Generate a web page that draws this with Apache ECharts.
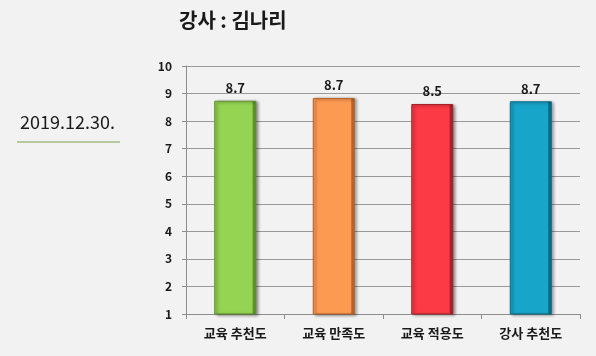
<!DOCTYPE html>
<html>
<head>
<meta charset="utf-8">
<script src="https://cdn.jsdelivr.net/npm/echarts@6/dist/echarts.min.js"></script>
<style>
html,body{margin:0;padding:0;background:#f2f2f2;}
#c{width:596px;height:356px;}
</style>
</head>
<body>
<div id="c"></div>
<script>
const categories = ['교육 추천도', '교육 만족도', '교육 적용도', '강사 추천도'];
const values = [8.74, 8.84, 8.62, 8.72];
const valueLabels = ['8.7', '8.7', '8.5', '8.7'];
const barColors = ['#94d452', '#fd9a52', '#fc3a45', '#17a6ca'];
const barDark = ['#5f8f2c', '#b8652a', '#a8202a', '#0d6a86'];
const titleText = '강사 : 김나리';
const dateText = '2019.12.30.';

const FONT = '"Noto Sans CJK KR", "Noto Sans", sans-serif';
const chart = echarts.init(document.getElementById('c'));

function grad(i){
  return new echarts.graphic.LinearGradient(0,0,1,0,[
    {offset:0, color:barColors[i]},
    {offset:0.9, color:barColors[i]},
    {offset:0.93, color:barDark[i]},
    {offset:1, color:barDark[i]}
  ]);
}

chart.setOption({
  backgroundColor:'#f2f2f2',
  animation:false,
  title:{
    text:titleText, left:174, top:5,
    textStyle:{fontFamily:FONT, fontSize:20, fontWeight:'bold', color:'#1a1a1a'}
  },
  graphic:[
    {type:'text', left:20, top:113, style:{text:dateText, font:'18px ' + FONT, fill:'#1a1a1a'}},
    {type:'line', shape:{x1:17, y1:142, x2:120, y2:142}, style:{stroke:'#77a04a', lineWidth:1}}
  ],
  grid:{left:186, right:16, top:66, bottom:42},
  xAxis:{
    type:'category', data:categories,
    axisLine:{lineStyle:{color:'#8c8c8c'}},
    axisTick:{show:true, length:5, lineStyle:{color:'#8c8c8c'}},
    axisLabel:{fontFamily:FONT, fontSize:13, fontWeight:'bold', color:'#1a1a1a', margin:13}
  },
  yAxis:{
    type:'value', min:1, max:10, interval:1,
    axisLine:{show:true, lineStyle:{color:'#8c8c8c'}},
    axisTick:{show:true, length:4, lineStyle:{color:'#8c8c8c'}},
    splitLine:{lineStyle:{color:'#9a9a9a'}},
    axisLabel:{fontFamily:FONT, fontSize:12, fontWeight:'bold', color:'#1a1a1a', margin:14}
  },
  series:[{
    type:'bar', barWidth:42,
    data: values.map((v,i)=>({
      value:v,
      itemStyle:{
        color:grad(i), borderColor:barDark[i], borderWidth:1,
        shadowBlur:3, shadowColor:'rgba(0,0,0,0.45)', shadowOffsetX:2, shadowOffsetY:1
      },
      label:{formatter:()=>valueLabels[i]}
    })),
    label:{show:true, position:'top', distance:6, fontFamily:FONT, fontSize:13, fontWeight:'bold', color:'#1a1a1a'}
  }]
});
</script>
</body>
</html>
